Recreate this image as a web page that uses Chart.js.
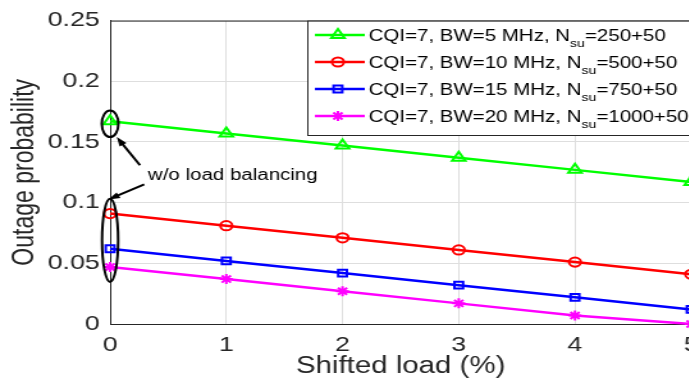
<!DOCTYPE html>
<html>
<head>
<meta charset="utf-8">
<script src="https://cdn.jsdelivr.net/npm/chart.js@4.4.1/dist/chart.umd.min.js"></script>
<style>
  html, body { margin: 0; padding: 0; background: #fff; overflow: hidden; }
  #frame { width: 689px; height: 378px; overflow: hidden; }
  /* the figure is exported with a wide aspect, so the canvas is stretched sideways */
  #stretch { width: 548px; height: 378px; transform: scaleX(1.28); transform-origin: 0 0; }
</style>
</head>
<body>
<div id="frame"><div id="stretch"><canvas id="outage" width="548" height="378"></canvas></div></div>
<script>
const shiftedLoad = [0, 1, 2, 3, 4, 5];
const outageBw5  = [0.167, 0.157, 0.147, 0.137, 0.127, 0.117];
const outageBw10 = [0.091, 0.081, 0.071, 0.061, 0.051, 0.041];
const outageBw15 = [0.062, 0.052, 0.042, 0.032, 0.022, 0.012];
const outageBw20 = [0.047, 0.037, 0.027, 0.017, 0.007, 0.000];

const xTickLabels = ['0', '1', '2', '3', '4', '5'];
const yTickValues = [0, 0.05, 0.1, 0.15, 0.2, 0.25];
const yTickLabels = ['0', '0.05', '0.1', '0.15', '0.2', '0.25'];

const bandwidths = ['5', '10', '15', '20'];
const userCounts = ['250+50', '500+50', '750+50', '1000+50'];
const noteText = 'w/o load balancing';

const lineColors = ['#00ff00', '#ff0000', '#0000ff', '#ff00ff'];
const markers = ['triangle', 'circle', 'rect', 'star'];
const markerSizes = [6, 4.6, 4.8, 5];

const ink = '#262626';
const gridGray = '#dedede';
const family = '"Liberation Sans", Arial, Helvetica, sans-serif';

Chart.defaults.font.family = family;

const series = [outageBw5, outageBw10, outageBw15, outageBw20];

function arrow(ctx, x0, y0, x1, y1) {
    const ang = Math.atan2(y1 - y0, x1 - x0);
    const len = 9, half = 3.2;
    ctx.beginPath();
    ctx.moveTo(x0, y0);
    ctx.lineTo(x1 - len * 0.6 * Math.cos(ang), y1 - len * 0.6 * Math.sin(ang));
    ctx.stroke();
    ctx.beginPath();
    ctx.moveTo(x1, y1);
    ctx.lineTo(x1 - len * Math.cos(ang) + half * Math.sin(ang), y1 - len * Math.sin(ang) - half * Math.cos(ang));
    ctx.lineTo(x1 - len * Math.cos(ang) - half * Math.sin(ang), y1 - len * Math.sin(ang) + half * Math.cos(ang));
    ctx.closePath();
    ctx.fill();
}

// axes box top edge, the "w/o load balancing" callouts and the legend
const figureExtras = {
    id: 'figureExtras',
    afterDatasetsDraw(chart) {
        const { ctx, chartArea: a, scales: { x, y } } = chart;
        ctx.save();

        ctx.strokeStyle = ink;
        ctx.lineWidth = 1;
        ctx.beginPath();
        ctx.moveTo(a.left, a.top + 0.5);
        ctx.lineTo(chart.width + 5, a.top + 0.5);
        ctx.stroke();

        // rings round the starting points
        ctx.strokeStyle = '#000';
        ctx.fillStyle = '#000';
        ctx.lineWidth = 2;
        const ring = (lo, hi, pad, rx) => {
            const cx = x.getPixelForValue(0);
            const top = y.getPixelForValue(hi + pad);
            const bot = y.getPixelForValue(lo - pad);
            ctx.beginPath();
            ctx.ellipse(cx, (top + bot) / 2, rx, (bot - top) / 2, 0, 0, Math.PI * 2);
            ctx.stroke();
        };
        ring(outageBw5[0] - 0.002, outageBw5[0] - 0.002, 0.011, 6.5);
        ring(outageBw20[0], outageBw10[0], 0.0123, 6.3);

        arrow(ctx, x.getPixelForValue(0.2575), y.getPixelForValue(0.1308),
                   x.getPixelForValue(0.0575), y.getPixelForValue(0.154));
        arrow(ctx, x.getPixelForValue(0.294), y.getPixelForValue(0.1151),
                   x.getPixelForValue(-0.0146), y.getPixelForValue(0.1026));

        ctx.font = '16px ' + family;
        ctx.textBaseline = 'middle';
        ctx.textAlign = 'left';
        ctx.fillText(noteText, x.getPixelForValue(0.326), y.getPixelForValue(0.1225));

        // legend
        const boxLeft = 240.5, boxTop = a.top + 0.5, boxBottom = 135.5;
        ctx.fillStyle = '#fff';
        ctx.fillRect(boxLeft, boxTop, chart.width, boxBottom - boxTop);
        ctx.strokeStyle = ink;
        ctx.lineWidth = 1;
        ctx.strokeRect(boxLeft, boxTop, chart.width, boxBottom - boxTop);

        series.forEach((_, i) => {
            const rowY = 35 + i * 27;
            ctx.strokeStyle = lineColors[i];
            ctx.lineWidth = 2.5;
            ctx.beginPath();
            ctx.moveTo(246, rowY);
            ctx.lineTo(285, rowY);
            ctx.stroke();
            ctx.fillStyle = 'rgba(0,0,0,0)';
            ctx.lineWidth = 2;
            if (Chart.helpers && Chart.helpers.drawPoint) {
                Chart.helpers.drawPoint(ctx, { pointStyle: markers[i], radius: markerSizes[i], borderWidth: 2, rotation: 0 }, 264, rowY);
            }

            ctx.fillStyle = '#000';
            ctx.textBaseline = 'alphabetic';
            let tx = 288;
            const main = 'CQI=7, BW=' + bandwidths[i] + ' MHz, N';
            ctx.font = '16px ' + family;
            ctx.fillText(main, tx, rowY + 5.5);
            tx += ctx.measureText(main).width;
            ctx.font = '11px ' + family;
            ctx.fillText('su', tx, rowY + 12);
            tx += ctx.measureText('su').width;
            ctx.font = '16px ' + family;
            ctx.fillText('=' + userCounts[i], tx, rowY + 5.5);
        });

        ctx.restore();
    }
};

new Chart(document.getElementById('outage'), {
    type: 'line',
    data: {
        datasets: series.map((vals, i) => ({
            label: 'BW=' + bandwidths[i] + ' MHz',
            data: vals.map((v, k) => ({ x: shiftedLoad[k], y: v })),
            borderColor: lineColors[i],
            backgroundColor: 'rgba(0,0,0,0)',
            borderWidth: 2.5,
            pointStyle: markers[i],
            pointRadius: markerSizes[i],
            pointBorderWidth: 2,
            pointBorderColor: lineColors[i],
            pointBackgroundColor: 'rgba(0,0,0,0)',
            tension: 0,
            clip: false
        }))
    },
    options: {
        responsive: false,
        devicePixelRatio: 1,
        animation: false,
        layout: { padding: { top: 20, right: 7, left: 0, bottom: 0 } },
        plugins: { legend: { display: false }, tooltip: { enabled: false } },
        scales: {
            x: {
                type: 'linear',
                min: 0,
                max: 5,
                afterFit: s => {
                    s.height = 54;
                    // the last label may hang off the edge, no extra room for it
                    s.paddingLeft = 0;
                    s.paddingRight = 0;
                },
                afterBuildTicks: s => { s.ticks = shiftedLoad.map(v => ({ value: v })); },
                ticks: {
                    autoSkip: false,
                    maxRotation: 0,
                    padding: 9,
                    color: ink,
                    font: { size: 21 },
                    callback: (v, i) => xTickLabels[i]
                },
                grid: { color: gridGray, drawTicks: false },
                border: { color: ink, width: 1 },
                title: {
                    display: true,
                    text: 'Shifted load (%)',
                    color: ink,
                    font: { size: 23, lineHeight: 1 },
                    padding: { top: 0, bottom: 0 }
                }
            },
            y: {
                min: 0,
                max: 0.25,
                afterFit: s => { s.width = 86; },
                afterBuildTicks: s => { s.ticks = yTickValues.map(v => ({ value: v })); },
                ticks: {
                    padding: 8,
                    color: ink,
                    font: { size: 21 },
                    callback: (v, i) => yTickLabels[i]
                },
                grid: { color: gridGray, drawTicks: false },
                border: { color: ink, width: 1 },
                title: {
                    display: true,
                    text: 'Outage probability',
                    color: ink,
                    font: { size: 23, lineHeight: 1 },
                    padding: { top: 8, bottom: 0 }
                }
            }
        }
    },
    plugins: [figureExtras]
});
</script>
</body>
</html>
